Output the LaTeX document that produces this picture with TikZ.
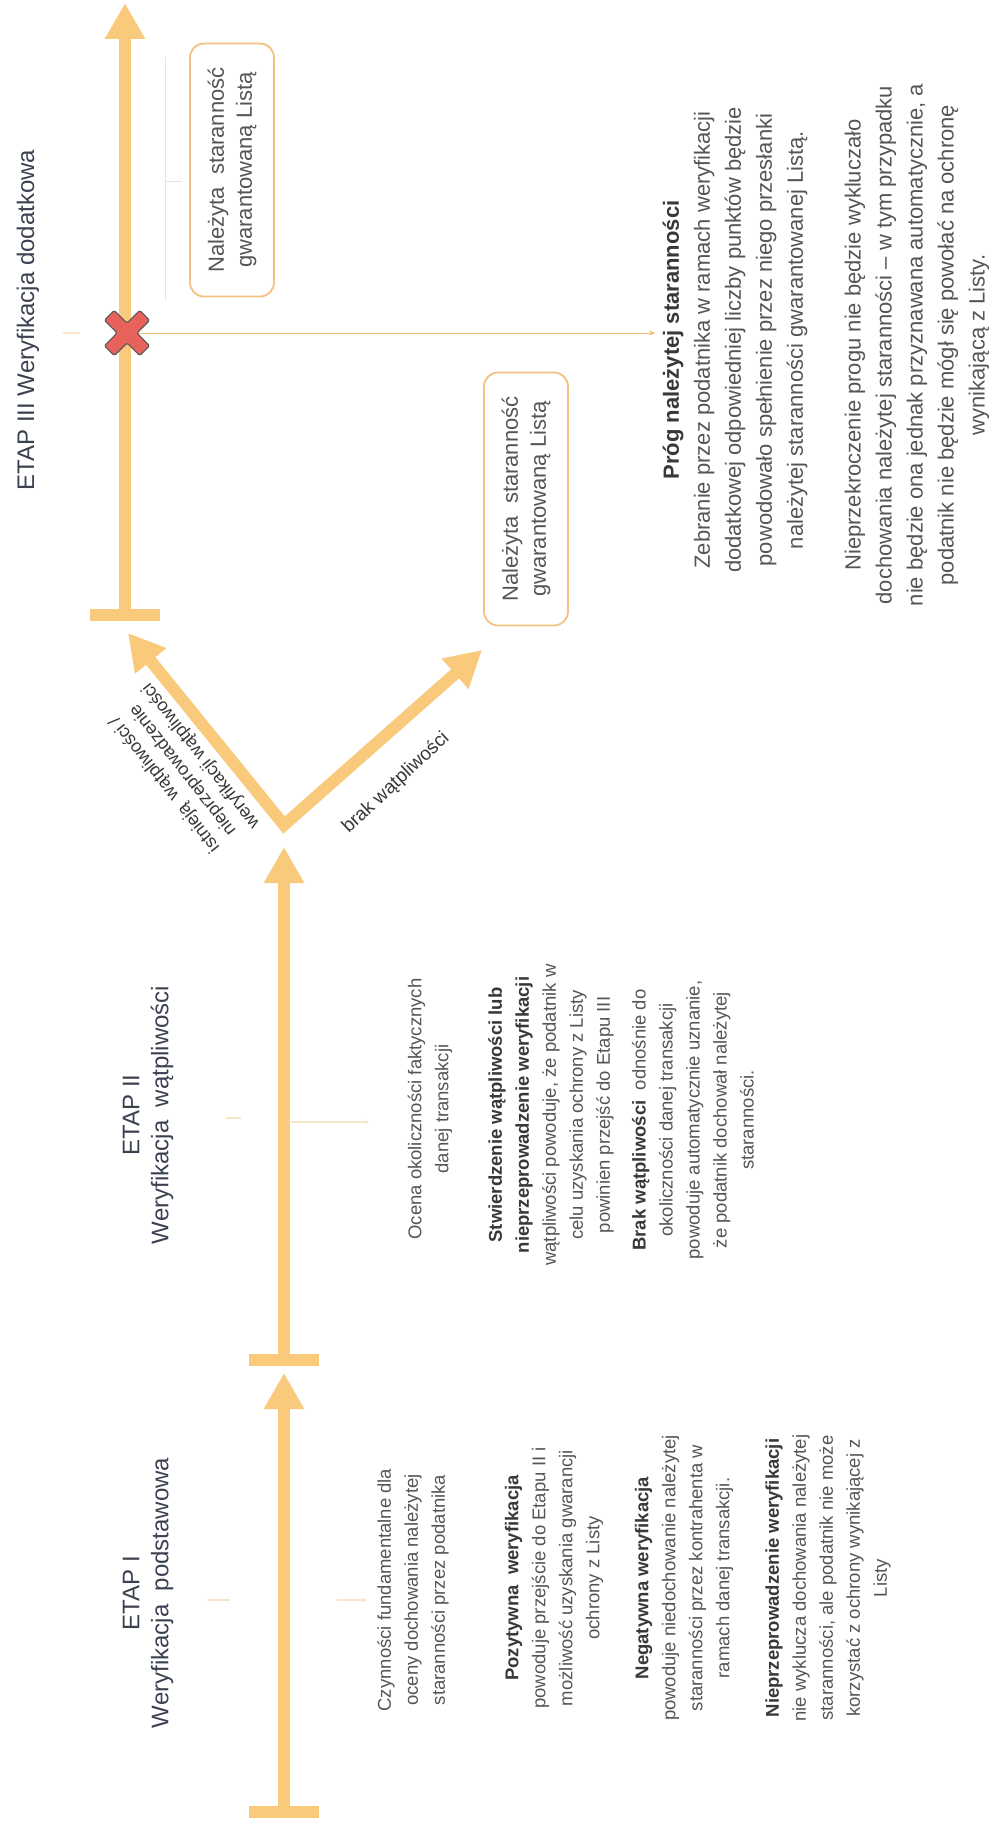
\documentclass[tikz,border=0pt]{standalone}
\usepackage{fontspec}
\setmainfont{Liberation Sans}
\usetikzlibrary{arrows.meta}
\definecolor{arrowc}{HTML}{F9CA7C}
\definecolor{boxc}{HTML}{F4C27E}
\definecolor{thinc}{HTML}{F2BD7A}
\definecolor{faintc}{HTML}{F7E7C6}
\definecolor{faintg}{HTML}{E4E4E4}
\definecolor{txt}{HTML}{555555}
\definecolor{hd}{HTML}{383838}
\definecolor{ttl}{HTML}{3A4150}
\definecolor{xred}{HTML}{E8625C}
\newcommand\hdg[1]{\textcolor{hd}{\bfseries #1}}
\begin{document}
\begin{tikzpicture}[x=1pt,y=-1pt,
  flow/.style={line width=12pt, draw=arrowc, -{Triangle[width=38pt,length=36pt]}},
  flowv/.style={line width=12pt, draw=arrowc, line join=miter, {Triangle[width=38pt,length=36pt]}-{Triangle[width=38pt,length=36pt]}},
  barst/.style={line width=12pt, draw=arrowc},
  okbox/.style={draw=boxc, line width=1.8pt, rounded corners=14pt, rotate=90, minimum width=253pt, minimum height=84pt, align=center, font=\fontsize{22}{28}\selectfont, text=txt},
  ttlst/.style={rotate=90, align=center, font=\fontsize{24}{29}\selectfont, text=ttl},
  body/.style={rotate=90, align=center, font=\fontsize{18.5}{27}\selectfont, text=txt},
  bodyl/.style={rotate=90, align=center, font=\fontsize{22}{31}\selectfont, text=txt},
  lbl/.style={align=center, font=\fontsize{18}{23}\selectfont, text=hd},
  thinln/.style={draw=thinc, line width=1pt},
  faint/.style={draw=faintc, line width=1.2pt}]
\useasboundingbox (0,0) rectangle (992,1830);
\fill[white] (0,0) rectangle (992,1830);

% coordinates
\coordinate (a1s) at (284,1812);
\coordinate (a1e) at (284,1373);
\coordinate (a2s) at (284,1360);
\coordinate (a2e) at (284,847);
\coordinate (vtx) at (284,825);
\coordinate (vl) at (128,633);
\coordinate (vr) at (482,650);
\coordinate (a3s) at (125,615);
\coordinate (a3e) at (125,3);
\coordinate (b1l) at (249,1812); \coordinate (b1r) at (319,1812);
\coordinate (b2l) at (249,1360); \coordinate (b2r) at (319,1360);
\coordinate (b3l) at (90,615);   \coordinate (b3r) at (160,615);
\coordinate (xmark) at (127,333);
\coordinate (xend) at (655,333);
\coordinate (xtl) at (63,333); \coordinate (xtr) at (80,333);

% faint ticks / guides
\draw[faint] (207,1600) -- (230,1600);
\draw[faint, -{Stealth[length=4pt,width=4pt]}] (337,1600) -- (367,1600);
\draw[faint] (226,1118) -- (241,1118);
\draw[faint, -{Stealth[length=4pt,width=4pt]}] (291,1122) -- (369,1122);
\draw[draw=faintg, line width=1pt] (165,57) -- (165,300);
\draw[draw=faintg, line width=1pt] (165,182) -- (182,182);
\draw[faint] (xtl) -- (xtr);

% main flow
\draw[flow] (a1s) -- (a1e);
\draw[barst] (b1l) -- (b1r);
\draw[flow] (a2s) -- (a2e);
\draw[barst] (b2l) -- (b2r);
\draw[flowv] (vl) -- (vtx) -- (vr);
\draw[barst] (b3l) -- (b3r);
\draw[flow] (a3s) -- (a3e);

% line from X to threshold text
\draw[thinln, -{Stealth[length=6pt,width=5pt]}] (xmark) -- (xend);

% red X
\begin{scope}[shift={(xmark)}, rotate=45]
\filldraw[fill=xred, draw=black!65, line width=1.2pt, rounded corners=1.5pt]
 (7,25) -- (7,7) -- (25,7) -- (25,-7) -- (7,-7) -- (7,-25) -- (-7,-25) -- (-7,-7) -- (-25,-7) -- (-25,7) -- (-7,7) -- (-7,25) -- cycle;
\end{scope}

% boxes
\node[okbox] (box1) at (232,170) {Należyta\ \ staranność\\gwarantowaną Listą};
\node[okbox] (box2) at (526,499) {Należyta\ \ staranność\\gwarantowaną Listą};

% titles
\node[ttlst] (t3) at (28,320) {ETAP III Weryfikacja dodatkowa};
\node[ttlst] (t2) at (148,1115) {ETAP II\\Weryfikacja\ \ wątpliwości};
\node[ttlst] (t1) at (148,1593) {ETAP I\\Weryfikacja\ \ podstawowa};

% branch labels
\node[lbl, rotate=128] (lblL) at (183,770) {istnieją\ \ wątpliwości /\\nieprzeprowadzenie\\weryfikacji wątpliwości};
\node[lbl, rotate=43, font=\fontsize{19}{23}\selectfont] (lblR) at (396,783) {brak wątpliwości};

% ETAP I texts
\node[body] (c1) at (413,1590) {Czynności fundamentalne dla\\oceny dochowania należytej\\staranności przez podatnika};
\node[body] (c2) at (554,1578) {\hdg{Pozytywna\ \ weryfikacja}\\powoduje przejście do Etapu II i\\możliwość uzyskania gwarancji\\ochrony z Listy};
\node[body] (c3) at (684,1578) {\hdg{Negatywna weryfikacja}\\powoduje niedochowanie należytej\\staranności przez kontrahenta w\\ramach danej transakcji.};
\node[body] (c4) at (828,1578) {\hdg{Nieprzeprowadzenie weryfikacji}\\nie wyklucza dochowania należytej\\staranności, ale podatnik nie może\\korzystać z ochrony wynikającej z\\Listy};

% ETAP II texts
\node[body] (d1) at (430,1109) {Ocena okoliczności faktycznych\\danej transakcji};
\node[body] (d2) at (551,1115) {\hdg{Stwierdzenie wątpliwości lub}\\\hdg{nieprzeprowadzenie weryfikacji}\\wątpliwości powoduje, że podatnik w\\celu uzyskania ochrony z Listy\\powinien przejść do Etapu III};
\node[body] (d3) at (693,1120) {\hdg{Brak wątpliwości}\ \ odnośnie do\\okoliczności danej transakcji\\powoduje automatycznie uznanie,\\że podatnik dochował należytej\\staranności.};

% ETAP III texts
\node[bodyl] (e1) at (735,340) {\hdg{Próg należytej staranności}\\Zebranie przez podatnika w ramach weryfikacji\\dodatkowej odpowiedniej liczby punktów będzie\\powodowało spełnienie przez niego przesłanki\\należytej staranności gwarantowanej Listą.};
\node[bodyl] (e2) at (917,345) {Nieprzekroczenie progu nie będzie wykluczało\\dochowania należytej staranności – w tym przypadku\\nie będzie ona jednak przyznawana automatycznie, a\\podatnik nie będzie mógł się powołać na ochronę\\wynikającą z Listy.};
\end{tikzpicture}
\end{document}
